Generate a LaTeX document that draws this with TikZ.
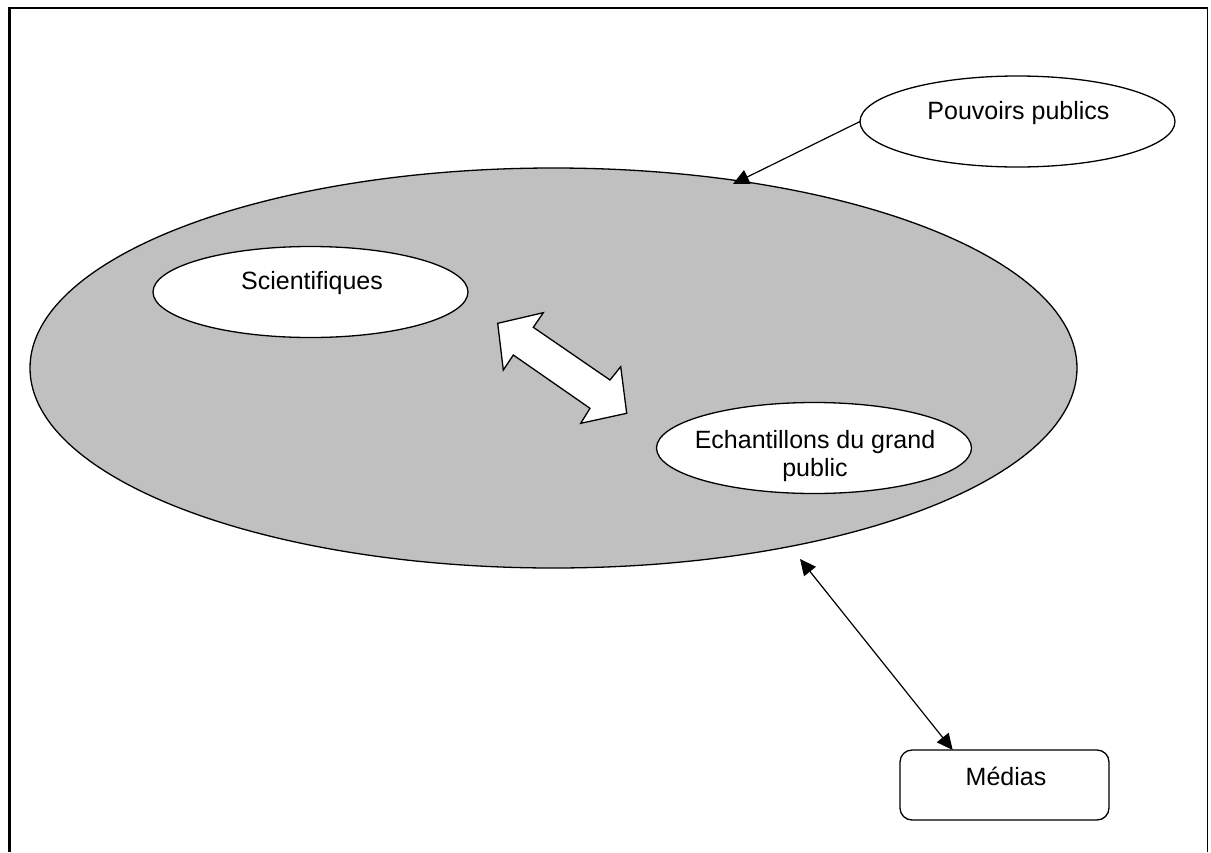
\documentclass[tikz,border=0pt]{standalone}
\usepackage{fontspec}
\setmainfont{Liberation Sans}
\usetikzlibrary{arrows.meta,shapes.geometric}
\definecolor{silvergray}{HTML}{C0C0C0}
\begin{document}
\begin{tikzpicture}[x=1pt,y=-1pt,
  oval/.style={ellipse, draw, fill=white, line width=1.3pt, minimum width=315pt, minimum height=91pt, inner sep=0pt, outer sep=0pt},
  lbl/.style={font=\fontsize{25}{28.4}\selectfont, inner sep=0pt, anchor=base, align=center},
  conn/.style={line width=1.2pt}]
\useasboundingbox (0,0) rectangle (1211,852);
% frame
\draw[line width=2.6pt, line cap=butt] (9.3,852) -- (9.3,7.8) -- (1207.5,7.8);
\draw[line width=1pt] (1207.5,7.8) -- (1207.5,852);
% big ellipse
\node[ellipse, draw, fill=silvergray, line width=1.3pt, minimum width=1047pt, minimum height=400pt, inner sep=0pt, outer sep=0pt] (world) at (553.5,368) {};
% inner ellipses
\node[oval] (sci) at (310.5,292) {};
\node[lbl] (scit) at (312,289.3) {Scientifiques};
\node[oval] (ech) at (814,448) {};
\node[lbl] (echt) at (815,476.7) {Echantillons du grand\\public};
% double arrow
\draw[fill=white, line width=1.3pt, line join=miter]
  (497.7,323.3) -- (543.3,312.7) -- (533.3,327.3) -- (610,380) -- (620.7,366.7)
  -- (626.7,413.3) -- (580.7,423.3) -- (590,408.3) -- (513.3,355) -- (503.3,370) -- cycle;
% Pouvoirs publics
\node[oval] (pouv) at (1017.5,121.5) {};
\node[lbl] (pouvt) at (1018.5,119) {Pouvoirs publics};
\coordinate (ptip) at (733,184);
\draw[conn, -{Triangle[length=16pt,width=15pt]}] (pouv.west) -- (ptip);
% Medias
\node[draw, rounded corners=12pt, line width=1.3pt, minimum width=209pt, minimum height=70pt, inner sep=0pt, outer sep=0pt, fill=white] (med) at (1004.5,785) {};
\node[lbl] (medt) at (1006,785) {Médias};
\coordinate (mtop) at (800,559);
\draw[conn, {Triangle[length=16pt,width=15pt]}-{Triangle[length=16pt,width=15pt]}] (mtop) -- ([xshift=-51.8pt]med.north);
\end{tikzpicture}
\end{document}
